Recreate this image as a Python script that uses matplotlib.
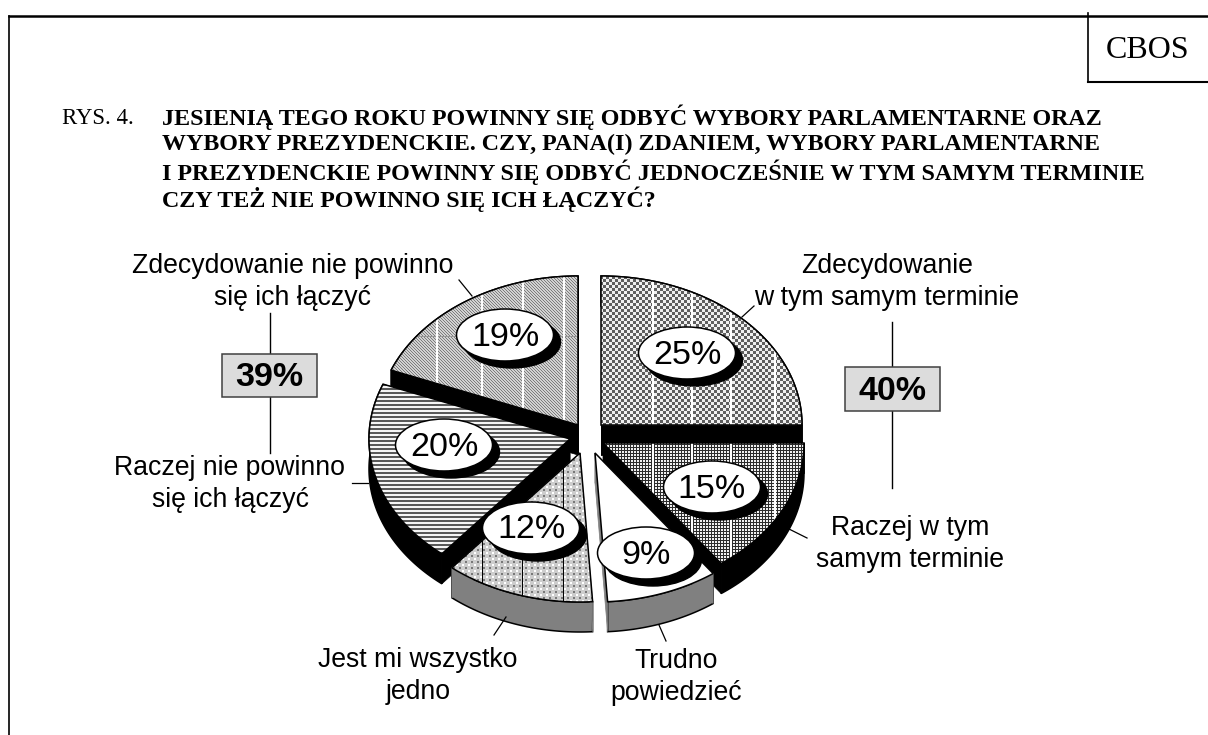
import numpy as np
import matplotlib
matplotlib.use("Agg")
import matplotlib.pyplot as plt
from matplotlib.patches import Polygon, Ellipse, Rectangle

# ---- data ----
categories = ["Zdecydowanie\nw tym samym terminie", "Raczej w tym\nsamym terminie",
              "Trudno\npowiedzieć", "Jest mi wszystko\njedno",
              "Raczej nie powinno\nsię ich łączyć", "Zdecydowanie nie powinno\nsię ich łączyć"]
shares = [25, 15, 9, 12, 20, 19]
group_totals = [40, 39]
title_tag = "RYS. 4."
title_lines = ["JESIENIĄ TEGO ROKU POWINNY SIĘ ODBYĆ WYBORY PARLAMENTARNE ORAZ",
               "WYBORY PREZYDENCKIE. CZY, PANA(I) ZDANIEM, WYBORY PARLAMENTARNE",
               "I PREZYDENCKIE POWINNY SIĘ ODBYĆ JEDNOCZEŚNIE W TYM SAMYM TERMINIE",
               "CZY TEŻ NIE POWINNO SIĘ ICH ŁĄCZYĆ?"]

# ---- layout ----
W, H = 1208, 735
RX, RY, DEPTH = 201, 149, 30
apexes = [(601, 425), (603, 443), (595, 453), (580, 453), (570, 439), (578, 425)]
side_colors = ["black", "black", "#808080", "#808080", "black", "black"]
draw_order = [5, 0, 4, 1, 3, 2]
bubble_xy = [(687, 353), (712, 487), (646, 553), (531, 528), (444, 445), (505, 335)]
label_xy = [(887, 282), (910, 544), (676, 677), (418, 676), (230, 484), (293, 282)]
leaders = [((754, 306), (742, 317)), ((789, 529), (807, 538)), ((659, 625), (666, 641)),
           ((506, 617), (494, 635)), ((352, 483), (368, 483)), ((459, 280), (472, 296))]
SANS, SERIF = "Liberation Sans", "Liberation Serif"

fig = plt.figure(figsize=(W / 100, H / 100), dpi=100, facecolor="white")
ax = fig.add_axes([0, 0, 1, 1])
ax.set_xlim(0, W)
ax.set_ylim(H, 0)
ax.axis("off")

yy, xx = np.mgrid[0:H, 0:W]


def with_vlines(tex, xs, val, width=2):
    for x in xs:
        tex[:, x:x + width] = val
    return tex


def tex_checker():
    t = np.where(((xx // 3 + yy // 3) % 2) == 0, 95, 240).astype(float)
    return with_vlines(t, [652, 691, 730, 774], 255)


def tex_grid():
    t = np.where((xx % 3 == 0) | (yy % 3 == 0), 45, 240).astype(float)
    return with_vlines(t, [652, 691, 730, 774], 255)


def tex_dots():
    t = np.full((H, W), 205.0)
    t[((xx % 6) < 2) & ((yy % 6) < 2)] = 255
    t[((xx % 6) >= 3) & ((xx % 6) < 5) & ((yy % 6) >= 3) & ((yy % 6) < 5)] = 120
    return with_vlines(t, [482, 522, 563], 0, 1)


def tex_lines():
    return np.where((yy % 4) < 2, 90, 245).astype(float)


def tex_diag():
    t = np.where(((xx - yy) % 3) == 0, 125, 210).astype(float)
    t[336, :] = 150
    return with_vlines(t, [436, 481, 522, 563], 255)


def tex_white():
    return np.full((H, W), 255.0)


textures = [tex_checker, tex_grid, tex_white, tex_dots, tex_lines, tex_diag]

# wedge angles come from the shares, clockwise from 12 o'clock
edges = 90 - np.concatenate([[0], np.cumsum(shares)]) * 3.6

for z0, i in enumerate(draw_order):
    z = 2 + z0
    a0, a1 = np.radians(edges[i]), np.radians(edges[i + 1])
    t = np.linspace(a0, a1, 80)
    cx, cy = apexes[i]
    arc = np.column_stack([cx + RX * np.cos(t), cy - RY * np.sin(t)])
    poly = np.vstack([[cx, cy], arc])
    lift = np.array([0, DEPTH])
    col = side_colors[i]
    # side: the arc band and both cut faces
    band = np.vstack([arc, (arc + lift)[::-1]])
    ax.add_patch(Polygon(band, closed=True, fc=col, ec="black", lw=1.1, zorder=z))
    for end in (arc[0], arc[-1]):
        face = np.array([[cx, cy], end, end + lift, [cx, cy + DEPTH]])
        ax.add_patch(Polygon(face, closed=True, fc=col, ec=col, lw=0.5, zorder=z))
    clip = Polygon(poly, closed=True, transform=ax.transData, fc="none", ec="none")
    ax.add_patch(clip)
    im = ax.imshow(textures[i](), cmap="gray", vmin=0, vmax=255, extent=(0, W, H, 0),
                   interpolation="nearest", aspect="auto", zorder=z + 0.2)
    im.set_clip_path(clip)
    ax.add_patch(Polygon(poly, closed=True, fc="none", ec="black", lw=1.1, zorder=z + 0.3))

ax.set_xlim(0, W)
ax.set_ylim(H, 0)

# percentage bubbles
for (x, y), v in zip(bubble_xy, shares):
    ax.add_patch(Ellipse((x + 7, y + 7), 97, 52, fc="black", ec="black", zorder=20))
    ax.add_patch(Ellipse((x, y), 97, 52, fc="white", ec="black", lw=1.1, zorder=21))
    ax.text(x, y + 2, f"{v}%", ha="center", va="center", family=SANS, fontsize=24.5, zorder=22)

# category labels and leader lines
for (x, y), lab in zip(label_xy, categories):
    ax.text(x, y, lab, ha="center", va="center", family=SANS, fontsize=19.2,
            linespacing=1.26, color="black", zorder=25)
for p, q in leaders:
    ax.plot([p[0], q[0]], [p[1], q[1]], color="black", lw=0.9, zorder=24)

# group totals
boxes = [(845, 367, 95, 44, 892, 322, 488), (222, 354, 95, 43, 270, 313, 453)]
for (x, y, w, h, lx, y0, y1), v in zip(boxes, group_totals):
    ax.plot([lx, lx], [y0, y1], color="black", lw=1, zorder=24)
    ax.add_patch(Rectangle((x, y), w, h, fc="#dcdcdc", ec="#404040", lw=1.1, zorder=25))
    ax.text(x + w / 2, y + h / 2 + 2, f"{v}%", ha="center", va="center", family=SANS,
            fontsize=24.5, fontweight="bold", zorder=26)

# frame
ax.plot([9, W], [16, 16], color="black", lw=1.8, zorder=30)
ax.plot([9, 9], [16, H], color="black", lw=1.2, zorder=30)
ax.plot([1088, 1088], [13, 82], color="black", lw=1.2, zorder=30)
ax.plot([1088, W], [82, 82], color="black", lw=1.5, zorder=30)
ax.text(1148, 50, "CBOS", ha="center", va="center", family=SERIF, fontsize=23)

# title
ax.text(62, 118, title_tag, ha="left", va="center", family=SERIF, fontsize=16.4)
for y, line in zip([117, 144, 172, 199], title_lines):
    ax.text(162, y, line, ha="left", va="center", family=SERIF, fontsize=17.3, fontweight="bold")

fig.savefig("out.png", dpi=100, facecolor="white")
